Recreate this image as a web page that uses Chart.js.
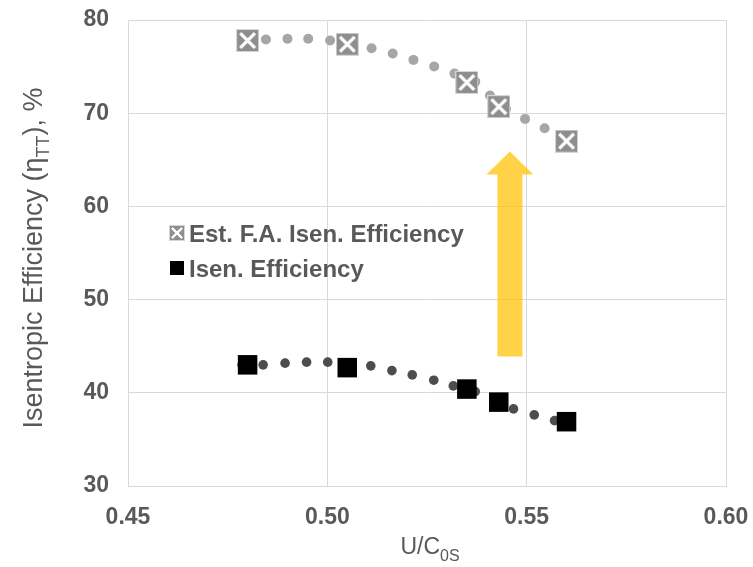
<!DOCTYPE html>
<html>
  <head>
    <title>Isentropic Efficiency vs U/C0s</title>
    <script src="https://cdn.jsdelivr.net/npm/chart.js"></script>
    <style>
      body { margin: 0; background: #fff; }
      .chart-container { width: 753px; height: 567px; }
    </style>
  </head>
  <body>
    <div class="chart-container">
      <canvas id="eff-chart"></canvas>
    </div>

    <script>
      // Measured points (markers)
      const ucX = [0.480, 0.505, 0.535, 0.543, 0.560];
      const faEff = [77.8, 77.4, 73.3, 70.7, 67.0];
      const isenEff = [43.0, 42.7, 40.4, 39.0, 36.9];

      // Dotted trendlines, dot by dot
      const faTrendX = [0.4794, 0.4846, 0.4900, 0.4952, 0.5007, 0.5060, 0.5111, 0.5164, 0.5216, 0.5268, 0.5319, 0.5371, 0.5408, 0.5448, 0.5496, 0.5545, 0.5591];
      const faTrendY = [77.83, 77.91, 77.98, 77.98, 77.80, 77.42, 76.97, 76.40, 75.72, 75.01, 74.25, 73.39, 71.89, 70.46, 69.39, 68.38, 67.38];
      const isenTrendX = [0.4786, 0.4839, 0.4894, 0.4948, 0.5001, 0.5054, 0.5109, 0.5162, 0.5213, 0.5267, 0.5316, 0.5371, 0.5418, 0.5467, 0.5519, 0.5570];
      const isenTrendY = [43.00, 43.00, 43.18, 43.29, 43.29, 43.10, 42.89, 42.38, 41.92, 41.35, 40.74, 40.13, 39.24, 38.27, 37.63, 37.01];

      const xTicks = [0.45, 0.50, 0.55, 0.60];
      const yTicks = [30, 40, 50, 60, 70, 80];

      // arrow from (x, yFrom) up to (x, yTo) in data units
      const arrowX = 0.5458;
      const arrowFrom = 43.9;
      const arrowTo = 65.9;

      const FONT = "'Liberation Sans', Arial, sans-serif";
      const TEXT = '#595959';
      const GRID = '#d9d9d9';

      const toXY = (xs, ys) => xs.map((x, i) => ({ x: x, y: ys[i] }));

      // gray square with white cross marker
      function crossBox(size) {
        const c = document.createElement('canvas');
        c.width = size; c.height = size;
        const g = c.getContext('2d');
        g.fillStyle = '#d6d6d6';
        g.fillRect(0, 0, size, size);
        g.fillStyle = '#8e8e8e';
        g.fillRect(1, 1, size - 2, size - 2);
        g.strokeStyle = '#ffffff';
        g.lineWidth = size / 7;
        g.beginPath();
        g.moveTo(size * 0.18, size * 0.18); g.lineTo(size * 0.82, size * 0.82);
        g.moveTo(size * 0.82, size * 0.18); g.lineTo(size * 0.18, size * 0.82);
        g.stroke();
        return c;
      }
      const faMarker = crossBox(23);
      const faLegendIcon = crossBox(16);

      function drawSub(ctx, parts, x, y, align) {
        // parts: [text, isSub, font]
        let total = 0;
        parts.forEach(p => {
          ctx.font = p[2];
          total += ctx.measureText(p[0]).width;
        });
        let cx = align === 'center' ? x - total / 2 : x;
        parts.forEach(p => {
          ctx.font = p[2];
          ctx.fillText(p[0], cx, y + (p[1] ? 7 : 0));
          cx += ctx.measureText(p[0]).width;
        });
      }

      const extras = {
        id: 'extras',
        beforeDatasetsDraw(chart) {
          const ctx = chart.ctx;
          const xs = chart.scales.x, ys = chart.scales.y;
          const cx = xs.getPixelForValue(arrowX);
          const yb = ys.getPixelForValue(arrowFrom);
          const yt = ys.getPixelForValue(arrowTo);
          ctx.save();
          ctx.fillStyle = 'rgba(255, 192, 0, 0.72)';
          ctx.beginPath();
          ctx.moveTo(cx - 12.5, yb);
          ctx.lineTo(cx - 12.5, yt + 23);
          ctx.lineTo(cx - 23.5, yt + 23);
          ctx.lineTo(cx, yt);
          ctx.lineTo(cx + 23.5, yt + 23);
          ctx.lineTo(cx + 12.5, yt + 23);
          ctx.lineTo(cx + 12.5, yb);
          ctx.closePath();
          ctx.fill();
          ctx.restore();
        },
        afterDraw(chart) {
          const ctx = chart.ctx;
          ctx.save();
          ctx.fillStyle = TEXT;
          ctx.textBaseline = 'alphabetic';
          ctx.textAlign = 'left';

          // x axis title
          drawSub(ctx, [['U/C', false, '23px ' + FONT], ['0S', true, '16px ' + FONT]], 430, 554, 'center');

          // y axis title
          ctx.save();
          ctx.translate(42, 258);
          ctx.rotate(-Math.PI / 2);
          drawSub(ctx, [
            ['Isentropic Efficiency (\u03B7', false, '27px ' + FONT],
            ['TT', true, '18px ' + FONT],
            ['), %', false, '27px ' + FONT]
          ], 0, 0, 'center');
          ctx.restore();

          // legend
          ctx.font = 'bold 24px ' + FONT;
          ctx.drawImage(faLegendIcon, 169, 225);
          ctx.fillText(chart.data.datasets[0].label, 189, 242);
          ctx.fillStyle = '#000';
          ctx.fillRect(170, 261, 14, 14);
          ctx.fillStyle = TEXT;
          ctx.fillText(chart.data.datasets[1].label, 189, 277);
          ctx.restore();
        }
      };

      const ctx = document.getElementById('eff-chart').getContext('2d');
      new Chart(ctx, {
        type: 'scatter',
        data: {
          datasets: [
            {
              label: 'Est. F.A. Isen. Efficiency',
              data: toXY(ucX, faEff),
              pointStyle: faMarker,
              order: 0
            },
            {
              label: 'Isen. Efficiency',
              data: toXY(ucX, isenEff),
              pointStyle: 'rect',
              pointRadius: 13.8,
              backgroundColor: '#000',
              borderColor: '#000',
              borderWidth: 0,
              order: 1
            },
            {
              label: 'FA trend',
              data: toXY(faTrendX, faTrendY),
              pointRadius: 5,
              backgroundColor: '#a6a6a6',
              borderWidth: 0,
              order: 2
            },
            {
              label: 'Isen trend',
              data: toXY(isenTrendX, isenTrendY),
              pointRadius: 4.8,
              backgroundColor: '#4d4d4d',
              borderWidth: 0,
              order: 3
            }
          ]
        },
        options: {
          responsive: true,
          maintainAspectRatio: false,
          animation: false,
          events: [],
          layout: { padding: { top: 20, right: 27, left: 0, bottom: 0 } },
          plugins: {
            legend: { display: false },
            tooltip: { enabled: false }
          },
          scales: {
            x: {
              type: 'linear',
              min: xTicks[0],
              max: xTicks[xTicks.length - 1],
              afterBuildTicks: s => { s.ticks = xTicks.map(v => ({ value: v })); },
              afterFit: s => { s.height = 81; s.paddingLeft = 0; s.paddingRight = 0; },
              grid: { color: GRID, drawTicks: false },
              border: { color: GRID },
              ticks: {
                padding: 18,
                color: TEXT,
                font: { family: FONT, size: 23, weight: 'bold' },
                callback: v => v.toFixed(2)
              }
            },
            y: {
              min: yTicks[0],
              max: yTicks[yTicks.length - 1],
              afterBuildTicks: s => { s.ticks = yTicks.map(v => ({ value: v })); },
              afterFit: s => { s.width = 128; s.paddingTop = 0; s.paddingBottom = 0; },
              grid: { color: GRID, drawTicks: false },
              border: { color: GRID },
              ticks: {
                padding: 19,
                color: TEXT,
                font: { family: FONT, size: 23, weight: 'bold' }
              }
            }
          }
        },
        plugins: [extras]
      });
    </script>
  </body>
</html>
